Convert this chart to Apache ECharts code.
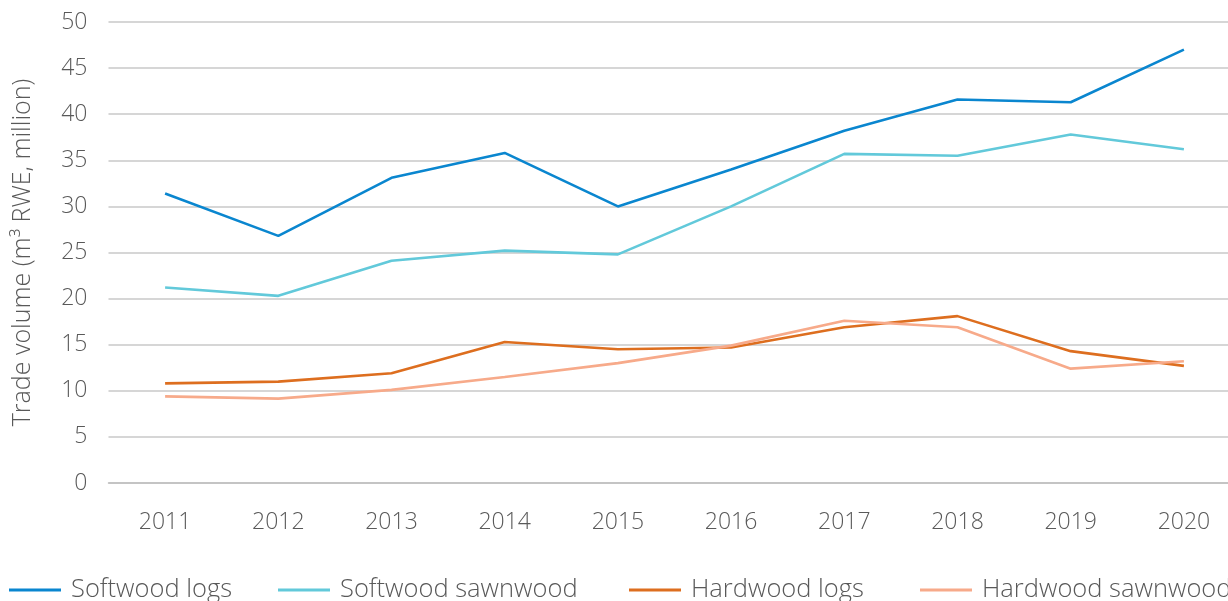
<!DOCTYPE html>
<html><head><meta charset="utf-8">
<script src="https://cdn.jsdelivr.net/npm/echarts@6/dist/echarts.min.js"></script>
<style>html,body{margin:0;padding:0;background:#fff;}#c{width:1228px;height:601px;}</style>
</head><body><div id="c"></div>
<script>
const years = ['2011','2012','2013','2014','2015','2016','2017','2018','2019','2020'];
const softwoodLogs = [31.4, 26.8, 33.1, 35.8, 30.0, 34.0, 38.2, 41.6, 41.3, 47.0];
const softwoodSawnwood = [21.2, 20.3, 24.1, 25.2, 24.8, 30.0, 35.7, 35.5, 37.8, 36.2];
const hardwoodLogs = [10.8, 11.0, 11.9, 15.3, 14.5, 14.7, 16.9, 18.1, 14.3, 12.7];
const hardwoodSawnwood = [9.4, 9.15, 10.1, 11.5, 13.0, 14.9, 17.6, 16.9, 12.4, 13.2];
const seriesNames = ['Softwood logs','Softwood sawnwood','Hardwood logs','Hardwood sawnwood'];
const colors = ['#0A86CF','#62C9DA','#DD6E1F','#F7AA8A'];
const yTicks = {min:0, max:50, interval:5};

const font = 'Open Sans';
const legendLefts = [9, 278, 629, 920];
const chart = echarts.init(document.getElementById('c'));
const data = [softwoodLogs, softwoodSawnwood, hardwoodLogs, hardwoodSawnwood];
chart.setOption({
  animation:false,
  color: colors,
  textStyle:{fontFamily:font},
  grid:{left:108.5, top:22, width:1132, height:461, containLabel:false, outerBoundsMode:'none'},
  legend: seriesNames.map((n,i)=>({
    left:legendLefts[i], top:577, itemWidth:52, itemHeight:3,
    icon:'rect', padding:0,
    textStyle:{fontFamily:font, fontSize:25.5, fontWeight:300, color:'#595959', padding:[0,0,0,5]},
    data:[n]
  })),
  xAxis:{
    type:'category', data:years, boundaryGap:true,
    axisLine:{lineStyle:{color:'#BFBFBF', width:1.5}},
    axisTick:{show:false},
    axisLabel:{fontFamily:font, fontSize:23, fontWeight:300, color:'#595959', margin:28}
  },
  yAxis:{
    type:'value', min:yTicks.min, max:yTicks.max, interval:yTicks.interval,
    name:'Trade volume (m³ RWE, million)', nameLocation:'middle', nameGap:73,
    nameTextStyle:{fontFamily:font, fontSize:25, fontWeight:300, color:'#595959'},
    axisLine:{show:false}, axisTick:{show:false},
    axisLabel:{fontFamily:font, fontSize:23, fontWeight:300, color:'#595959', margin:21},
    splitLine:{lineStyle:{color:'#C8C8C8', width:1.5}}
  },
  series: seriesNames.map((n,i)=>({
    name:n, type:'line', data:data[i], symbol:'none', smooth:false,
    lineStyle:{width:2.6, color:colors[i]}, itemStyle:{color:colors[i]}
  }))
});
</script></body></html>
